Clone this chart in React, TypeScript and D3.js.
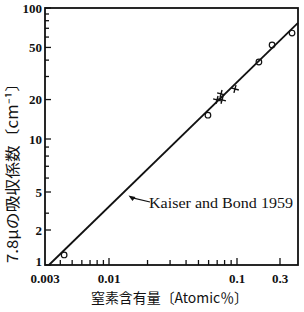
import React, { useEffect, useRef } from 'react';
import * as d3 from 'd3';

// nitrogen content [atomic %] vs absorption coefficient at 7.8 micron [cm^-1]
const circleX = [0.0043, 0.0593, 0.175, 0.245, 0.405];
const circleY = [1.22, 15.2, 38.7, 52.2, 64.4];
const crossX = [0.0698, 0.075, 0.0764, 0.0964];
const crossY = [19.9, 22.1, 19.9, 24.1];

// Kaiser and Bond 1959 fitted line, two ends
const fitX = [0.00323, 0.47];
const fitY = [1, 77];

// axis ticks as printed
const xBreaks = [0.003, 0.01, 0.1, 0.3, 0.47];
const xMajor = [0.01, 0.1, 0.3];
const xLabels = ['0.003', '0.01', '0.1', '0.3'];
const xLabelAt = [0.003, 0.01, 0.1, 0.3];
const xMinor = [0.004, 0.005, 0.006, 0.007, 0.008, 0.009, 0.02, 0.03, 0.04, 0.05, 0.06, 0.07, 0.08, 0.09];
const yBreaks = [1, 2, 5, 10, 100];
const yMajor = [1, 2, 5, 10, 20, 50, 100];
const yMinor = [3, 6, 7, 8, 9, 30, 40, 60, 70, 80, 90];

const W = 304;
const H = 312;

export default function App() {
  const ref = useRef<SVGSVGElement>(null);

  useEffect(() => {
    const svg = d3.select(ref.current);
    svg.selectAll('*').remove();

    const left = 45, right = 298, top = 8, bottom = 265;

    // the printed axes are not quite even, so the log scales are piecewise
    const x = d3.scaleLog().domain(xBreaks).range([left, 109, 237, 280, right]);
    const y = d3.scaleLog().domain(yBreaks).range([bottom, 230, 192, 139, top]);

    svg.append('rect').attr('width', W).attr('height', H).attr('fill', '#fff');

    const numFont = '"Liberation Serif", serif';

    // x ticks, pointing up into the plot
    const gx = svg.append('g').attr('transform', `translate(0,${bottom})`);
    gx.selectAll('.minor').data(xMinor).enter().append('line')
      .attr('x1', d => x(d)).attr('x2', d => x(d))
      .attr('y1', 0).attr('y2', -5)
      .attr('stroke', '#111').attr('stroke-width', 1.3);
    gx.selectAll('.major').data(xMajor).enter().append('line')
      .attr('x1', d => x(d)).attr('x2', d => x(d))
      .attr('y1', 0).attr('y2', -7)
      .attr('stroke', '#111').attr('stroke-width', 1.3);
    gx.selectAll('text').data(xLabelAt).enter().append('text')
      .attr('x', d => x(d)).attr('y', 18)
      .attr('text-anchor', 'middle')
      .attr('font-family', numFont).attr('font-size', 13).attr('font-weight', 'bold')
      .attr('fill', '#111')
      .text((d, i) => xLabels[i]);

    // y ticks, pointing right into the plot
    const gy = svg.append('g').attr('transform', `translate(${left},0)`);
    gy.selectAll('.minor').data(yMinor).enter().append('line')
      .attr('y1', d => y(d)).attr('y2', d => y(d))
      .attr('x1', 0).attr('x2', 4)
      .attr('stroke', '#111').attr('stroke-width', 1.3);
    gy.selectAll('.major').data(yMajor).enter().append('line')
      .attr('y1', d => y(d)).attr('y2', d => y(d))
      .attr('x1', 0).attr('x2', 6)
      .attr('stroke', '#111').attr('stroke-width', 1.3);
    // the bottom label "1" sits a little higher, clear of "0.003"
    gy.selectAll('text').data(yMajor).enter().append('text')
      .attr('x', -3).attr('y', d => y(d) - (d === 1 ? 4 : 0)).attr('dy', '0.35em')
      .attr('text-anchor', 'end')
      .attr('font-family', numFont).attr('font-size', 13).attr('font-weight', 'bold')
      .attr('fill', '#111')
      .text(d => String(d));

    // frame
    svg.append('rect')
      .attr('x', left).attr('y', top)
      .attr('width', right - left).attr('height', bottom - top)
      .attr('fill', 'none').attr('stroke', '#111').attr('stroke-width', 1.8);

    // fitted line
    const line = d3.line<number>().x((d, i) => x(fitX[i])).y(d => y(d));
    svg.append('path').datum(fitY).attr('d', line)
      .attr('fill', 'none').attr('stroke', '#111').attr('stroke-width', 1.8);

    // open circle points
    const pts = svg.append('g');
    circleX.forEach((v, i) => {
      const cx = x(v), cy = y(circleY[i]);
      pts.append('circle').attr('cx', cx).attr('cy', cy).attr('r', 2.8)
        .attr('fill', 'none').attr('stroke', '#111').attr('stroke-width', 1.2);
    });

    // cross points
    crossX.forEach((v, i) => {
      const cx = x(v), cy = y(crossY[i]);
      pts.append('path')
        .attr('d', `M${cx - 4},${cy}H${cx + 4}M${cx},${cy - 4}V${cy + 4}`)
        .attr('stroke', '#111').attr('stroke-width', 1.4)
        .attr('transform', `rotate(15,${cx},${cy})`);
    });

    // annotation with arrow to the line
    const tipX = x(0.0142), tipY = y(4.6);
    const tx = 149, ty = 208;
    svg.append('line')
      .attr('x1', tx + 1).attr('y1', ty - 6)
      .attr('x2', tipX + 2).attr('y2', tipY + 2)
      .attr('stroke', '#111').attr('stroke-width', 1.2);
    svg.append('path')
      .attr('d', `M${tipX},${tipY}l7,1.5l-3,4z`)
      .attr('fill', '#111');
    svg.append('text')
      .attr('x', tx).attr('y', ty)
      .attr('font-family', numFont).attr('font-size', 14)
      .attr('textLength', 144).attr('lengthAdjust', 'spacingAndGlyphs')
      .attr('fill', '#111')
      .text('Kaiser and Bond 1959');

    // axis titles
    svg.append('text')
      .attr('x', 91).attr('y', 303)
      .attr('font-family', '"Noto Sans CJK JP", sans-serif').attr('font-size', 14)
      .attr('textLength', 157).attr('lengthAdjust', 'spacingAndGlyphs')
      .attr('fill', '#111')
      .text('窒素含有量〔Atomic％〕');

    svg.append('text')
      .attr('transform', 'translate(18,169) rotate(-90)')
      .attr('text-anchor', 'middle')
      .attr('font-family', '"Noto Sans CJK JP", sans-serif').attr('font-size', 15)
      .attr('textLength', 188).attr('lengthAdjust', 'spacingAndGlyphs')
      .attr('fill', '#111')
      .text('7.8μの吸収係数〔cm⁻¹〕');
  }, []);

  return (
    <svg ref={ref} width={W} height={H}
      style={{ position: 'absolute', left: 0, top: 0 }} />
  );
}
